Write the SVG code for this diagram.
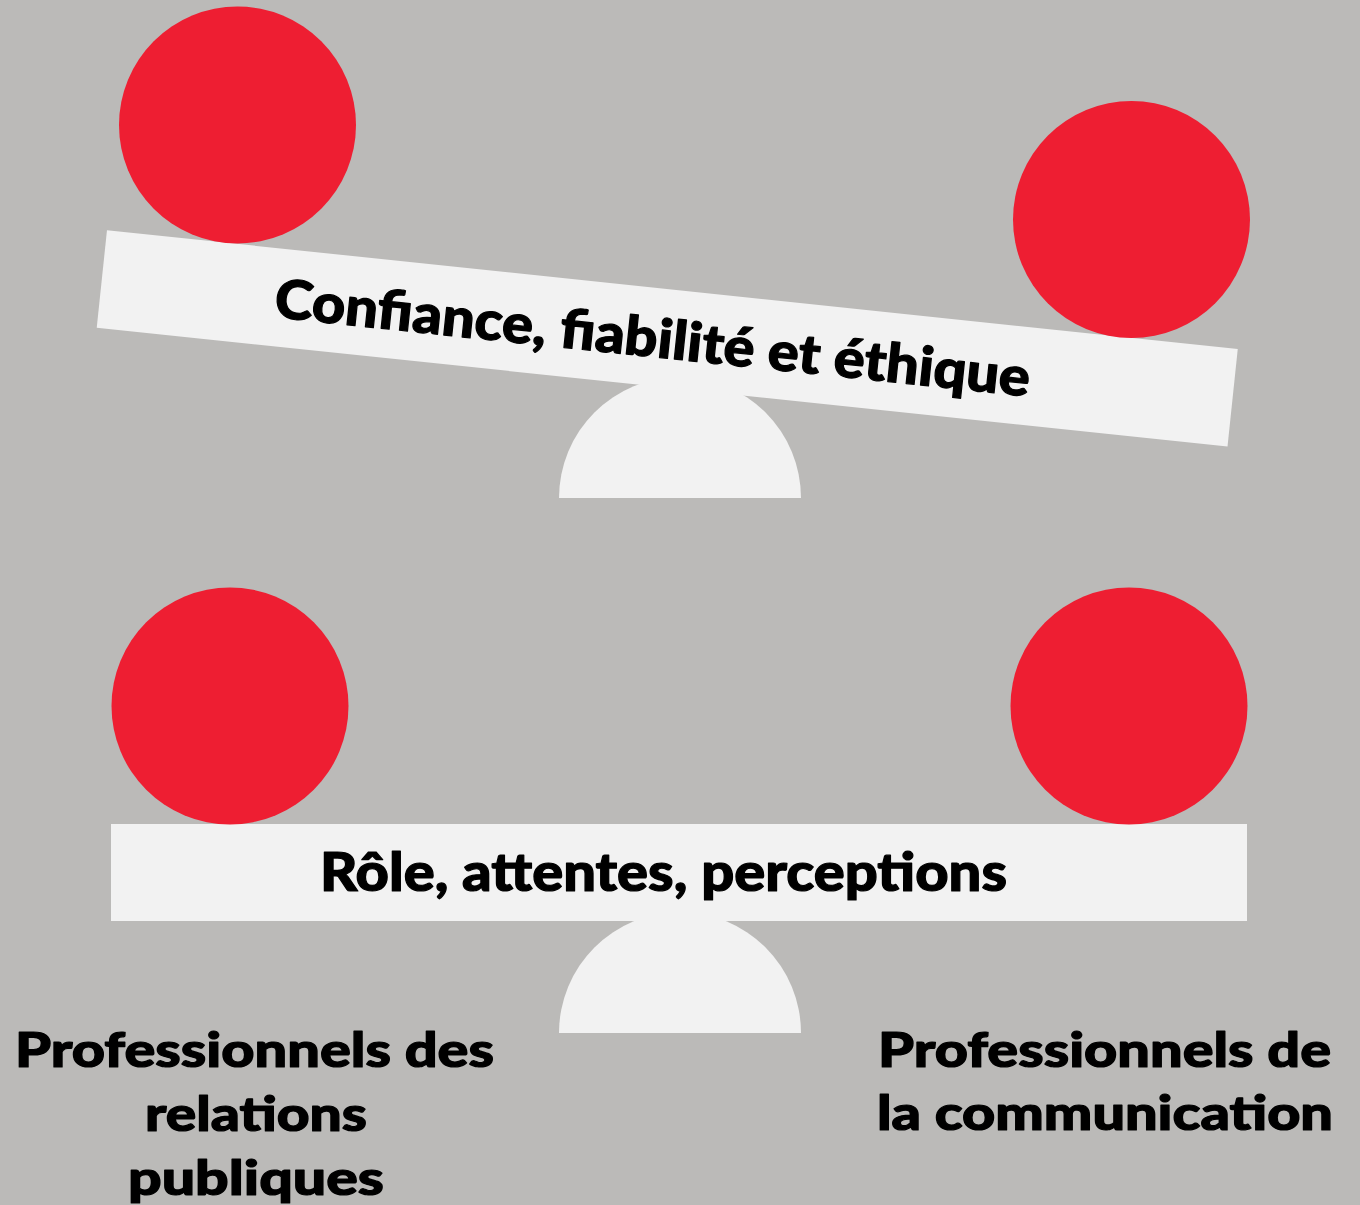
<svg xmlns="http://www.w3.org/2000/svg" width="1360" height="1205" viewBox="0 0 1360 1205">
  <style>
    .ball { fill: #ee1e32; }
    .plank { fill: #f2f2f2; }
    .label { font-family: "Lato", "Liberation Sans", sans-serif; font-weight: 900; fill: #000000; stroke: #000000; stroke-width: 1.2; stroke-linejoin: round; }
  </style>
  <rect x="0" y="0" width="1360" height="1205" fill="#bbbab8"/>

  <g id="top-balance">
    <path class="plank" d="M559 498 A121 121 0 0 1 801 498 Z"/>
    <g transform="translate(667.25 338.35) rotate(6)">
      <rect class="plank" x="-568.5" y="-49" width="1137" height="98"/>
      <text class="label" x="-394" y="20" font-size="54" textLength="759" lengthAdjust="spacingAndGlyphs">Confiance, fiabilité et éthique</text>
    </g>
    <circle class="ball" cx="237.5" cy="125" r="118.5"/>
    <circle class="ball" cx="1131.5" cy="219.5" r="118.5"/>
  </g>

  <g id="bottom-balance">
    <path class="plank" d="M559 1033 A121 121 0 0 1 801 1033 Z"/>
    <rect class="plank" x="111" y="824" width="1136" height="97"/>
    <text class="label" x="320" y="891" font-size="54" textLength="687" lengthAdjust="spacingAndGlyphs">Rôle, attentes, perceptions</text>
    <circle class="ball" cx="230" cy="706" r="118.5"/>
    <circle class="ball" cx="1129" cy="706" r="118.5"/>
  </g>

  <g id="label-left">
    <text class="label" x="15" y="1067" font-size="48" textLength="479" lengthAdjust="spacingAndGlyphs">Professionnels des</text>
    <text class="label" x="145" y="1131" font-size="48" textLength="222" lengthAdjust="spacingAndGlyphs">relations</text>
    <text class="label" x="128" y="1195" font-size="48" textLength="256" lengthAdjust="spacingAndGlyphs">publiques</text>
  </g>

  <g id="label-right">
    <text class="label" x="878" y="1067" font-size="48" textLength="453" lengthAdjust="spacingAndGlyphs">Professionnels de</text>
    <text class="label" x="877" y="1130" font-size="48" textLength="456" lengthAdjust="spacingAndGlyphs">la communication</text>
  </g>

  <g id="connectors"></g>
</svg>
